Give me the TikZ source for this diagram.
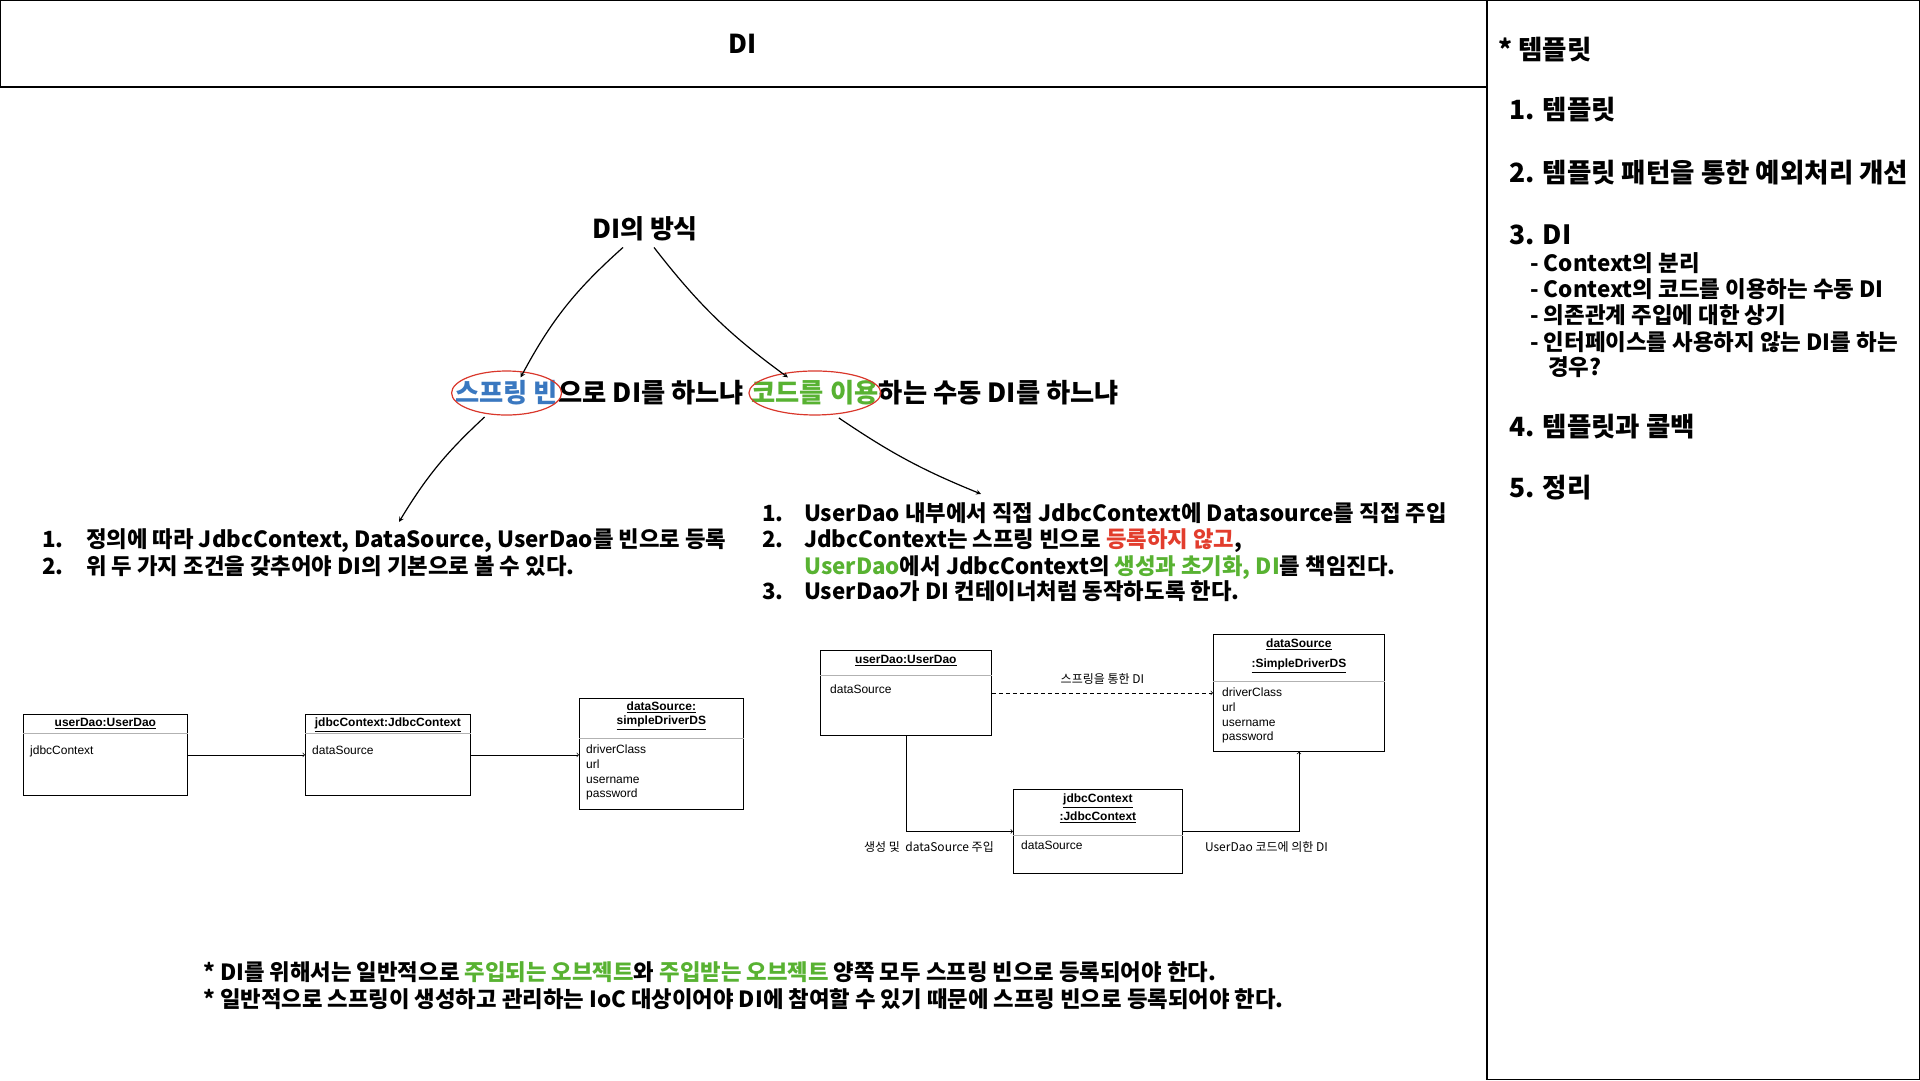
\documentclass[tikz,border=0pt]{standalone}
\usepackage{fontspec}
\setmainfont{Noto Sans CJK KR}
\newfontfamily\umlfont{Liberation Sans}
\usetikzlibrary{positioning, arrows, calc}
\definecolor{beanblue}{HTML}{3A78C0}
\definecolor{codegreen}{HTML}{58B232}
\definecolor{ringred}{HTML}{D9372B}
\definecolor{warnred}{HTML}{E23D2D}
\tikzset{
	titletext/.style={inner sep=0, font=\fontsize{26}{30}\selectfont\bfseries},
	headtext/.style={inner sep=0, font=\fontsize{26}{30}\selectfont\bfseries},
	rowtext/.style={inner sep=0, font=\fontsize{26.3}{30}\selectfont\bfseries},
	listtext/.style={inner sep=0, anchor=base west, font=\fontsize{22.3}{26}\selectfont\bfseries},
	paneltext/.style={inner sep=0, anchor=west, font=\fontsize{26.5}{30}\selectfont\bfseries},
	panelsub/.style={inner sep=0, anchor=west, font=\fontsize{22.4}{26}\selectfont\bfseries},
	notetext/.style={inner sep=0, anchor=west, font=\fontsize{22.3}{26}\selectfont\bfseries},
	ring/.style={draw=ringred, line width=1.2pt},
	bigarrow/.style={-stealth, line width=1.2pt},
	umlbox/.style={draw, line width=0.8pt, inner sep=0, anchor=north west},
	umlhead/.style={inner sep=0, anchor=north, align=center, font=\umlfont\fontsize{12}{14}\selectfont\bfseries},
	umlattr/.style={inner sep=0, anchor=north west, align=left, font=\umlfont\fontsize{12}{14.6}\selectfont},
	umlsep/.style={draw=gray!60, line width=0.8pt},
	umlarrow/.style={->, line width=0.7pt},
	umllabel/.style={inner sep=0, font=\fontsize{12}{14}\selectfont}
}
\begin{document}
\begin{tikzpicture}[x=1pt, y=-1pt]
	\useasboundingbox (0,0) rectangle (1920,1080);
	% frames
	\draw[line width=1.2pt] (0.6,0.6) rectangle (1487,87);
	\draw[line width=1.2pt] (1487,0.6) rectangle (1919.4,1079.4);
	\node[titletext] (title) at (743,44) {DI};

	% DI의 방식
	\node[headtext] (way) at (645,229) {DI의 방식};
	\node[rowtext, text=beanblue, anchor=west] (springbean) at (455,393) {스프링 빈};
	\node[rowtext, anchor=base west] (viabean) at (springbean.base east) {으로 DI를 하느냐};
	\node[rowtext, text=codegreen, anchor=base west] (usecode) at ([xshift=7pt]viabean.base east) {코드를 이용};
	\node[rowtext, anchor=base west] (bycode) at (usecode.base east) {하는 수동 DI를 하느냐};
	\draw[ring] (springbean.center) ellipse [x radius=55pt, y radius=22pt];
	\draw[ring] (usecode.center) ellipse [x radius=66pt, y radius=22pt];
	\draw[bigarrow] ([xshift=-22pt,yshift=-6pt]way.south) to[bend right=10] ([xshift=14pt,yshift=3pt]springbean.north);
	\draw[bigarrow] ([xshift=9pt,yshift=-6pt]way.south) to[bend right=8] ([xshift=-27pt,yshift=3pt]usecode.north);

	% lists
	\node[listtext] (spring1) at (42,547) {\makebox[44pt][l]{1.}정의에 따라 JdbcContext, DataSource, UserDao를 빈으로 등록};
	\node[listtext] (spring2) at (42,574) {\makebox[44pt][l]{2.}위 두 가지 조건을 갖추어야 DI의 기본으로 볼 수 있다.};
	\node[listtext] (code1) at (762,521) {\makebox[42pt][l]{1.}UserDao 내부에서 직접 JdbcContext에 Datasource를 직접 주입};
	\node[listtext] (code2) at (762,547) {\makebox[42pt][l]{2.}JdbcContext는 스프링 빈으로 \textcolor{warnred}{등록하지 않고},};
	\node[listtext] (code2b) at (762,574) {\hspace*{42pt}\textcolor{codegreen}{UserDao}에서 JdbcContext의 \textcolor{codegreen}{생성과 초기화, DI}를 책임진다.};
	\node[listtext] (code3) at (762,599) {\makebox[42pt][l]{3.}UserDao가 DI 컨테이너처럼 동작하도록 한다.};
	\draw[bigarrow] ([shift={(-22pt,-24pt)}]springbean.center) to[bend right=8] ([shift={(357pt,6pt)}]spring1.north west);
	\draw[bigarrow] ([shift={(24pt,-25pt)}]usecode.center) to[bend right=6] ([shift={(219pt,8pt)}]code1.north west);

	% spring bean diagram
	\node[umlbox, minimum width=164pt, minimum height=81pt] (ludao) at (23,714) {};
	\node[umlhead] at ([yshift=-4pt]ludao.north) {\underline{userDao:UserDao}};
	\draw[umlsep] ([yshift=-19pt]ludao.north west) -- ([yshift=-19pt]ludao.north east);
	\node[umlattr] at ([shift={(7pt,-32pt)}]ludao.north west) {jdbcContext};
	\node[umlbox, minimum width=165pt, minimum height=81pt] (ljdbc) at (305,714) {};
	\node[umlhead] at ([yshift=-4pt]ljdbc.north) {\underline{jdbcContext:JdbcContext}};
	\draw[umlsep] ([yshift=-19pt]ljdbc.north west) -- ([yshift=-19pt]ljdbc.north east);
	\node[umlattr] at ([shift={(7pt,-32pt)}]ljdbc.north west) {dataSource};
	\node[umlbox, minimum width=164pt, minimum height=111pt] (lds) at (579,698) {};
	\node[umlhead] at ([yshift=-4pt]lds.north) {\underline{dataSource:}\\\underline{simpleDriverDS}};
	\draw[umlsep] ([yshift=-40pt]lds.north west) -- ([yshift=-40pt]lds.north east);
	\node[umlattr] at ([shift={(7pt,-47pt)}]lds.north west) {driverClass\\url\\username\\password};
	\draw[umlarrow] (ludao.east) -- (ludao.east -| ljdbc.west);
	\draw[umlarrow] (ljdbc.east) -- (ljdbc.east -| lds.west);

	% code diagram
	\node[umlbox, minimum width=171pt, minimum height=85pt] (rudao) at (820,650) {};
	\node[umlhead] at ([yshift=-5pt]rudao.north) {\underline{userDao:UserDao}};
	\draw[umlsep] ([yshift=-25pt]rudao.north west) -- ([yshift=-25pt]rudao.north east);
	\node[umlattr] at ([shift={(10pt,-35pt)}]rudao.north west) {dataSource};
	\node[umlbox, minimum width=171pt, minimum height=117pt] (rds) at (1213,634) {};
	\node[umlhead, font=\umlfont\fontsize{12}{20}\selectfont\bfseries] at ([yshift=-5pt]rds.north) {\underline{dataSource}\\\underline{:SimpleDriverDS}};
	\draw[umlsep] ([yshift=-47pt]rds.north west) -- ([yshift=-47pt]rds.north east);
	\node[umlattr] at ([shift={(9pt,-54pt)}]rds.north west) {driverClass\\url\\username\\password};
	\node[umlbox, minimum width=169pt, minimum height=84pt] (rjdbc) at (1013,789) {};
	\node[umlhead, font=\umlfont\fontsize{12}{18}\selectfont\bfseries] at ([yshift=-5pt]rjdbc.north) {\underline{jdbcContext}\\\underline{:JdbcContext}};
	\draw[umlsep] ([yshift=-46pt]rjdbc.north west) -- ([yshift=-46pt]rjdbc.north east);
	\node[umlattr] at ([shift={(8pt,-52pt)}]rjdbc.north west) {dataSource};
	\draw[umlarrow, dash pattern=on 4pt off 3pt] (rudao.east) -- (rudao.east -| rds.west) node[umllabel, midway, above=8pt] {스프링을 통한 DI};
	\draw[umlarrow] (rudao.south) |- (rjdbc.west);
	\node[umllabel, anchor=east] at ([shift={(-19pt,-16pt)}]rjdbc.west) {생성 및 \ dataSource 주입};
	\draw[umlarrow] (rjdbc.east) -| (rds.south);
	\node[umllabel, anchor=west] at ([shift={(22pt,-16pt)}]rjdbc.east) {UserDao 코드에 의한 DI};

	% notes
	\node[notetext] (note1) at (203,972) {* DI를 위해서는 일반적으로 \textcolor{codegreen}{주입되는 오브젝트}와 \textcolor{codegreen}{주입받는 오브젝트} 양쪽 모두 스프링 빈으로 등록되어야 한다.};
	\node[notetext] (note2) at (203,999) {* 일반적으로 스프링이 생성하고 관리하는 IoC 대상이어야 DI에 참여할 수 있기 때문에 스프링 빈으로 등록되어야 한다.};

	% side panel
	\node[paneltext] (toc) at (1498,50) {* 템플릿};
	\node[paneltext] (toc1) at (1509,110) {1. 템플릿};
	\node[paneltext] (toc2) at (1509,173) {2. 템플릿 패턴을 통한 예외처리 개선};
	\node[paneltext] (toc3) at (1509,235) {3. DI};
	\node[panelsub] (toc3a) at (1530,263) {- Context의 분리};
	\node[panelsub] (toc3b) at (1530,289) {- Context의 코드를 이용하는 수동 DI};
	\node[panelsub] (toc3c) at (1530,315) {- 의존관계 주입에 대한 상기};
	\node[panelsub] (toc3d) at (1530,342) {- 인터페이스를 사용하지 않는 DI를 하는};
	\node[panelsub] (toc3e) at (1548,367) {경우?};
	\node[paneltext] (toc4) at (1509,427) {4. 템플릿과 콜백};
	\node[paneltext] (toc5) at (1509,488) {5. 정리};
\end{tikzpicture}
\end{document}
